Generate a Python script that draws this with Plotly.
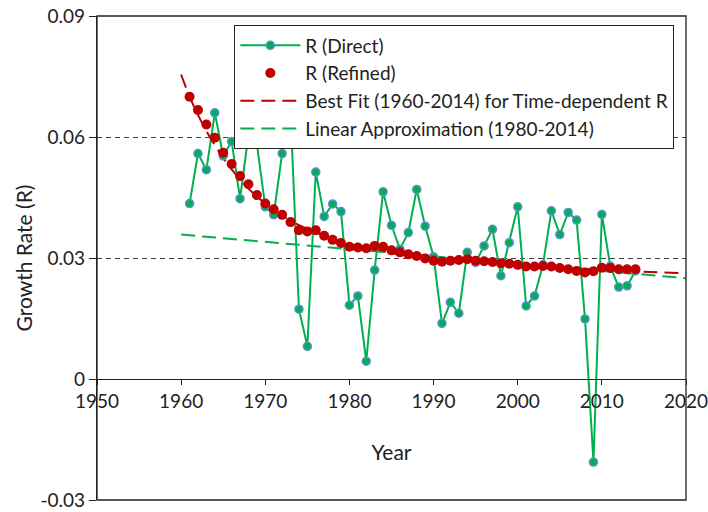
import plotly.graph_objects as go

years = list(range(1961, 2015))

r_direct = [0.0435, 0.0559, 0.0519, 0.0660, 0.0553, 0.0589, 0.0447, 0.0605, 0.0583, 0.0427,
            0.0407, 0.0559, 0.0660, 0.0173, 0.0081, 0.0513, 0.0403, 0.0434, 0.0415, 0.0183,
            0.0206, 0.0044, 0.0270, 0.0464, 0.0381, 0.0322, 0.0363, 0.0470, 0.0379, 0.0303,
            0.0138, 0.0190, 0.0163, 0.0314, 0.0289, 0.0330, 0.0371, 0.0256, 0.0338, 0.0427,
            0.0181, 0.0206, 0.0283, 0.0417, 0.0358, 0.0413, 0.0394, 0.0149, -0.0206, 0.0408,
            0.0280, 0.0228, 0.0231, 0.0268]

r_refined = [0.0700, 0.0667, 0.0631, 0.0598, 0.0561, 0.0533, 0.0503, 0.0483, 0.0456, 0.0435,
             0.0421, 0.0407, 0.0389, 0.0369, 0.0366, 0.0369, 0.0355, 0.0345, 0.0337, 0.0328,
             0.0326, 0.0324, 0.0330, 0.0328, 0.0319, 0.0314, 0.0309, 0.0305, 0.0299, 0.0293,
             0.0291, 0.0293, 0.0295, 0.0297, 0.0293, 0.0292, 0.0290, 0.0287, 0.0286, 0.0283,
             0.0279, 0.0279, 0.0280, 0.0279, 0.0275, 0.0272, 0.0268, 0.0264, 0.0267, 0.0276,
             0.0275, 0.0272, 0.0272, 0.0272]

fit_years = [1960, 1961, 1962, 1963, 1964, 1965, 1966, 1967, 1968, 1970, 1972, 1975,
             1980, 1985, 1990, 1995, 2000, 2005, 2010, 2015, 2020]
fit_values = [0.0755, 0.0700, 0.0655, 0.0615, 0.0580, 0.0548, 0.0520, 0.0495, 0.0472, 0.0435,
              0.0405, 0.0372, 0.0335, 0.0312, 0.0297, 0.0289, 0.0282, 0.0276, 0.0271, 0.0266, 0.0262]

lin_years = [1960, 2020]
lin_values = [0.0358, 0.0250]

y_ticks = [-0.03, 0, 0.03, 0.06, 0.09]
y_tick_labels = ["-0.03", "0", "0.03", "0.06", "0.09"]
x_ticks = [1950, 1960, 1970, 1980, 1990, 2000, 2010, 2020]

FONT = "Lato"
GREEN = "#00B050"
RED = "#C00000"
INK = "#222222"

fig = go.Figure()
fig.add_trace(go.Scatter(x=fit_years, y=fit_values, mode="lines", line_shape="spline",
                         name="Best Fit (1960-2014) for Time-dependent R",
                         line=dict(color=RED, width=2, dash="14px,7px"),
                         legendrank=3, legendgroup="c"))
fig.add_trace(go.Scatter(x=lin_years, y=lin_values, mode="lines",
                         name="Linear Approximation (1980-2014)",
                         line=dict(color=GREEN, width=2, dash="14px,7px"),
                         legendrank=4, legendgroup="d"))
fig.add_trace(go.Scatter(x=years, y=r_direct, mode="lines+markers", name="R (Direct)",
                         line=dict(color=GREEN, width=2),
                         marker=dict(symbol="circle", size=8, color=GREEN,
                                     line=dict(color="#5B8FD0", width=1.5)),
                         legendrank=1, legendgroup="a"))
fig.add_trace(go.Scatter(x=years, y=r_refined, mode="markers", name="R (Refined)",
                         marker=dict(symbol="circle", size=10, color=RED),
                         legendrank=2, legendgroup="b"))

fig.update_layout(
    width=708, height=512,
    margin=dict(l=97, r=22, t=16, b=12),
    paper_bgcolor="white", plot_bgcolor="white",
    font=dict(family=FONT, size=19, color=INK),
    showlegend=True,
    legend=dict(x=0.2326, y=0.981, xanchor="left", yanchor="top",
                bgcolor="white", bordercolor=INK, borderwidth=1.3,
                font=dict(family=FONT, size=19, color=INK),
                itemwidth=60, tracegroupgap=0),
    xaxis=dict(range=[1950, 2020], tickvals=x_ticks, anchor="free", position=0.25,
               showline=True, linecolor=INK, linewidth=1.3,
               ticks="outside", ticklen=5, tickcolor=INK, tickwidth=1.3,
               showgrid=False, zeroline=False, ticklabeloverflow="allow",
               tickfont=dict(size=19),
               title=dict(text="Year", standoff=34, font=dict(size=21)),
               automargin=False),
    yaxis=dict(range=[-0.03, 0.09], tickvals=y_ticks, ticktext=y_tick_labels,
               showline=True, linecolor=INK, linewidth=1.3,
               ticks="outside", ticklen=7, tickcolor=INK, tickwidth=1.3,
               showgrid=True, gridcolor="#404040", gridwidth=1.3, griddash="5px,4px",
               zeroline=False, ticklabeloverflow="allow",
               tickfont=dict(size=19),
               title=dict(text="Growth Rate (R)", standoff=2, font=dict(size=21)),
               automargin=False),
    shapes=[dict(type="rect", xref="paper", yref="paper", x0=0, x1=1, y0=0, y1=1,
                 line=dict(color=INK, width=1.3), layer="above")],
)

fig.write_html("out.html",
               config={"displayModeBar": False},
               post_script="document.body.style.margin='0px';document.body.style.overflow='hidden';")
